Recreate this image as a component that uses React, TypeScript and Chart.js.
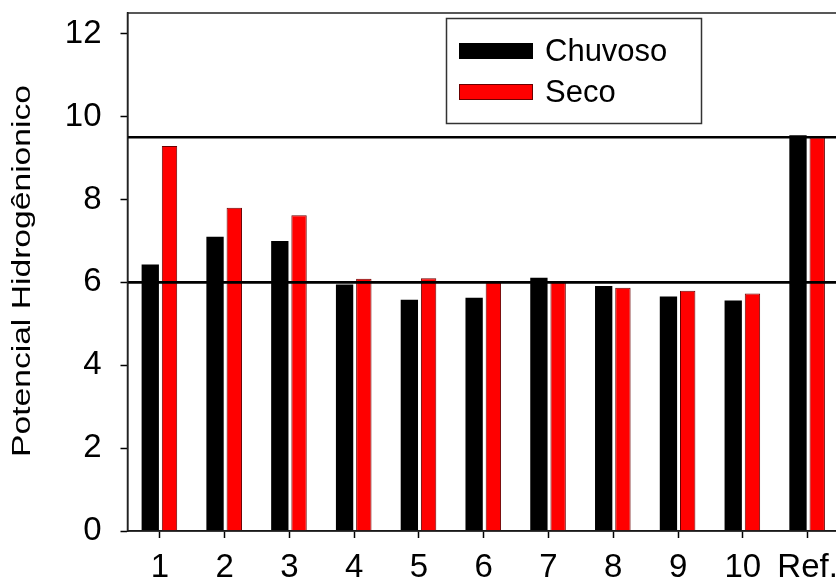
import React, { useEffect, useRef } from "react";
import { Chart, registerables } from "chart.js";

Chart.register(...registerables);

// pH measured at each sampling point, rainy vs dry season, plus reference
const categories = ["1", "2", "3", "4", "5", "6", "7", "8", "9", "10", "Ref."];
const chuvoso = [6.43, 7.1, 7.0, 5.95, 5.58, 5.63, 6.11, 5.91, 5.66, 5.56, 9.55];
const seco = [9.29, 7.8, 7.62, 6.09, 6.1, 6.02, 6.02, 5.87, 5.8, 5.73, 9.5];
// allowed pH range (lower and upper limit lines)
const limits = [6.0, 9.5];
const yMin = 0;
const yMax = 12.5;
const yStep = 2;
const yTitle = "Potencial Hidrogênionico";

const FONT = "'Liberation Sans', Arial, Helvetica, sans-serif";

const limitLines = {
  id: "limitLines",
  afterDatasetsDraw(chart: any) {
    const { ctx, chartArea, scales } = chart;
    ctx.save();
    ctx.strokeStyle = "#000";
    ctx.lineWidth = 2.6;
    for (const v of limits) {
      const y = scales.y.getPixelForValue(v);
      ctx.beginPath();
      ctx.moveTo(chartArea.left, y);
      ctx.lineTo(chartArea.right, y);
      ctx.stroke();
    }
    // frame around the plot area
    ctx.lineWidth = 1.5;
    ctx.strokeStyle = "#222";
    ctx.strokeRect(
      chartArea.left,
      chartArea.top,
      chartArea.right - chartArea.left,
      chartArea.bottom - chartArea.top
    );
    ctx.restore();
  },
};

const boxLegend = {
  id: "boxLegend",
  afterDraw(chart: any) {
    const { ctx } = chart;
    const ds = chart.data.datasets;
    ctx.save();
    ctx.fillStyle = "#fff";
    ctx.fillRect(446.5, 18.5, 255, 105);
    ctx.strokeStyle = "#333";
    ctx.lineWidth = 1.5;
    ctx.strokeRect(446.5, 18.5, 255, 105);
    const rows = [51, 92];
    ds.forEach((d: any, i: number) => {
      const cy = rows[i];
      ctx.fillStyle = d.backgroundColor;
      ctx.fillRect(459, cy - 8, 74, 16);
      ctx.strokeStyle = d.borderColor;
      ctx.lineWidth = 1;
      ctx.strokeRect(459.5, cy - 7.5, 73, 15);
      ctx.fillStyle = "#000";
      ctx.font = `31px ${FONT}`;
      ctx.textAlign = "left";
      ctx.textBaseline = "middle";
      ctx.fillText(d.label, 545, cy + 1);
    });
    ctx.restore();
  },
};

const axisTitle = {
  id: "axisTitle",
  afterDraw(chart: any) {
    const { ctx } = chart;
    ctx.save();
    ctx.font = `26px ${FONT}`;
    const w = ctx.measureText(yTitle).width;
    const stretch = 372 / w;
    ctx.translate(23, 271);
    ctx.rotate(-Math.PI / 2);
    ctx.scale(stretch, 1);
    ctx.fillStyle = "#000";
    ctx.textAlign = "center";
    ctx.textBaseline = "middle";
    ctx.fillText(yTitle, 0, 0);
    ctx.restore();
  },
};

export default function App() {
  const ref = useRef<HTMLCanvasElement | null>(null);

  useEffect(() => {
    if (!ref.current) return;
    const chart = new Chart(ref.current, {
      type: "bar",
      data: {
        labels: categories,
        datasets: [
          {
            label: "Chuvoso",
            data: chuvoso,
            backgroundColor: "#000000",
            borderColor: "#000000",
            borderWidth: 0,
            barPercentage: 0.9,
            categoryPercentage: 0.594,
          },
          {
            label: "Seco",
            data: seco,
            backgroundColor: "#ff0000",
            borderColor: "#6a0000",
            borderWidth: 1,
            barPercentage: 0.8,
            categoryPercentage: 0.594,
          },
        ],
      },
      options: {
        responsive: false,
        animation: false,
        devicePixelRatio: 1,
        layout: { padding: { left: 0, right: 20, top: 13, bottom: 0 } },
        plugins: {
          legend: { display: false },
          tooltip: { enabled: false },
        },
        scales: {
          x: {
            type: "category",
            offset: true,
            grid: {
              offset: false,
              drawOnChartArea: false,
              drawTicks: true,
              tickLength: 7,
              tickWidth: 1.5,
              color: "#000",
            },
            border: { display: true, color: "#000", width: 1.5 },
            ticks: {
              color: "#000",
              padding: 10,
              maxRotation: 0,
              autoSkip: false,
              font: { family: FONT, size: 33 },
            },
            afterFit(scale: any) {
              scale.height = 54;
              scale.paddingLeft = 0;
              scale.paddingRight = 0;
            },
          },
          y: {
            min: yMin,
            max: yMax,
            grid: {
              drawOnChartArea: false,
              drawTicks: true,
              tickLength: 7,
              tickWidth: 1.5,
              color: "#000",
            },
            border: { display: true, color: "#000", width: 1.5 },
            ticks: {
              stepSize: yStep,
              includeBounds: false,
              color: "#000",
              padding: 19,
              font: { family: FONT, size: 33 },
            },
            afterFit(scale: any) {
              scale.width = 127.5;
              scale.paddingTop = 0;
              scale.paddingBottom = 0;
            },
          },
        },
      },
      plugins: [limitLines, boxLegend, axisTitle],
    });
    return () => chart.destroy();
  }, []);

  return (
    <div
      style={{
        position: "absolute",
        left: 0,
        top: 0,
        width: 836,
        height: 585,
        overflow: "hidden",
        background: "#fff",
      }}
    >
      <canvas ref={ref} width={860} height={585} style={{ display: "block" }} />
    </div>
  );
}
